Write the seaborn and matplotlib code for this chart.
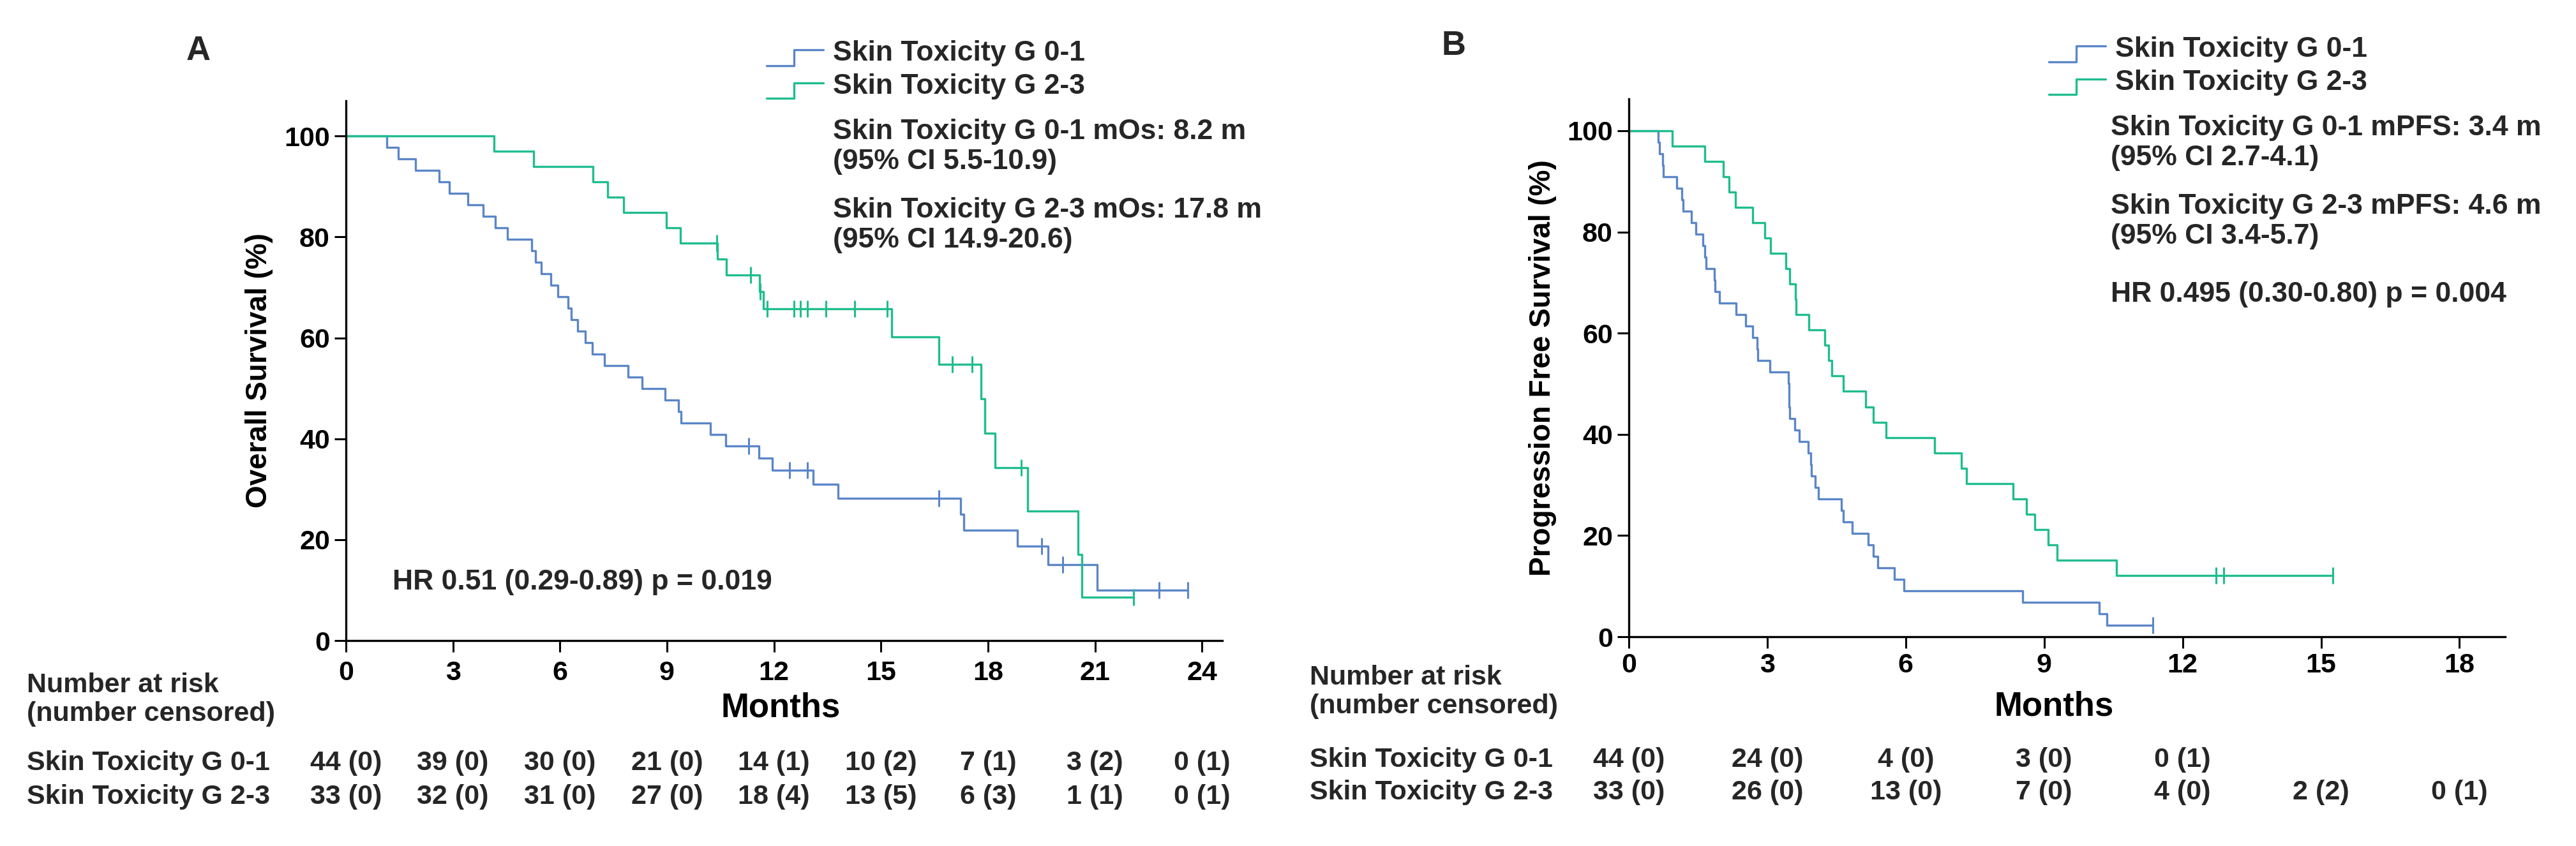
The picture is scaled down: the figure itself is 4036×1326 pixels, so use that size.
import numpy as np
import matplotlib
matplotlib.use("Agg")
import matplotlib.pyplot as plt
import matplotlib.transforms as mtransforms
from matplotlib.lines import Line2D
from matplotlib.legend_handler import HandlerBase
import seaborn as sns

# ---------------- data (months) ----------------
# Panel A - Overall survival
os_g01_deaths = [1.15, 1.46, 1.95, 2.62, 2.90, 3.41, 3.85, 4.19, 4.52, 5.21, 5.31, 5.47,
                 5.75, 5.95, 6.22, 6.32, 6.49, 6.71, 6.90, 7.24, 7.91, 8.30, 8.95, 9.32,
                 9.40, 10.22, 10.65, 11.58, 11.95, 13.10, 13.80, 17.24, 17.33, 18.83,
                 19.68, 21.07]
os_g01_censored = [11.30, 12.43, 12.94, 16.62, 19.50, 20.10, 22.80, 23.60]
os_g23_deaths = [4.16, 5.27, 6.93, 7.34, 7.79, 8.98, 9.37, 10.42, 10.67, 11.59, 11.71,
                 15.30, 16.62, 17.81, 17.92, 18.20, 19.11, 20.53, 20.64]
os_g23_censored = [10.39, 11.35, 11.62, 11.81, 12.57, 12.75, 12.93, 13.45, 14.27, 15.17,
                   17.00, 17.56, 18.94, 22.08]

# Panel B - Progression free survival
pfs_g01_deaths = [0.64, 0.66, 0.73, 0.75, 1.04, 1.15, 1.17, 1.36, 1.45, 1.61, 1.65, 1.67,
                  1.85, 1.87, 1.96, 2.32, 2.53, 2.69, 2.78, 2.80, 3.05, 3.46, 3.47, 3.47,
                  3.48, 3.60, 3.69, 3.88, 3.94, 3.96, 4.04, 4.11, 4.61, 4.65, 4.84, 5.18,
                  5.30, 5.39, 5.75, 5.96, 8.54, 10.20, 10.36]
pfs_g01_censored = [11.35]
pfs_g23_deaths = [0.94, 1.64, 2.05, 2.17, 2.31, 2.69, 2.94, 3.07, 3.40, 3.49, 3.61, 3.63,
                  3.90, 4.24, 4.33, 4.40, 4.65, 5.13, 5.30, 5.57, 6.62, 7.21, 7.32, 8.32,
                  8.61, 8.79, 9.09, 9.28, 10.57]
pfs_g23_censored = [12.73, 12.89, 15.25, 15.25]

group_labels = ["Skin Toxicity G 0-1", "Skin Toxicity G 2-3"]

# number at risk tables
os_risk_times = [0, 3, 6, 9, 12, 15, 18, 21, 24]
os_risk_g01 = ["44 (0)", "39 (0)", "30 (0)", "21 (0)", "14 (1)", "10 (2)", "7 (1)", "3 (2)", "0 (1)"]
os_risk_g23 = ["33 (0)", "32 (0)", "31 (0)", "27 (0)", "18 (4)", "13 (5)", "6 (3)", "1 (1)", "0 (1)"]
pfs_risk_times_g01 = [0, 3, 6, 9, 12]
pfs_risk_g01 = ["44 (0)", "24 (0)", "4 (0)", "3 (0)", "0 (1)"]
pfs_risk_times_g23 = [0, 3, 6, 9, 12, 15, 18]
pfs_risk_g23 = ["33 (0)", "26 (0)", "13 (0)", "7 (0)", "4 (0)", "2 (2)", "0 (1)"]

os_ticks = [0, 3, 6, 9, 12, 15, 18, 21, 24]
pfs_ticks = [0, 3, 6, 9, 12, 15, 18]
y_ticks = [0, 20, 40, 60, 80, 100]

os_notes = ["Skin Toxicity G 0-1 mOs: 8.2 m\n(95% CI 5.5-10.9)",
            "Skin Toxicity G 2-3 mOs: 17.8 m\n(95% CI 14.9-20.6)"]
os_hr = "HR 0.51 (0.29-0.89) p = 0.019"
pfs_notes = ["Skin Toxicity G 0-1 mPFS: 3.4 m\n(95% CI 2.7-4.1)",
             "Skin Toxicity G 2-3 mPFS: 4.6 m\n(95% CI 3.4-5.7)"]
pfs_hr = "HR 0.495 (0.30-0.80) p = 0.004"

BLUE = "#5A86C8"
GREEN = "#1FBD8E"


def km_curve(deaths, censored):
    t = np.array(list(deaths) + list(censored), float)
    e = np.array([1] * len(deaths) + [0] * len(censored))
    order = np.argsort(t, kind="stable")
    t, e = t[order], e[order]
    n = len(t)
    s = 100.0
    xs, ys, cx, cy = [0.0], [100.0], [], []
    for ut in np.unique(t):
        m = t == ut
        d = int(e[m].sum())
        c = int(m.sum()) - d
        if d > 0:
            s *= (n - d) / n
            xs.append(ut)
            ys.append(s)
        if c > 0:
            cx.append(ut)
            cy.append(s)
        n -= int(m.sum())
    xs.append(t.max())
    ys.append(s)
    return xs, ys, cx, cy


class StepHandler(HandlerBase):
    def create_artists(self, legend, orig_handle, xdescent, ydescent, width, height,
                       fontsize, trans):
        x0, y0 = -xdescent, -ydescent
        xs = [x0, x0 + 0.48 * width, x0 + 0.48 * width, x0 + width]
        ys = [y0 - 0.25 * height, y0 - 0.25 * height, y0 + 0.55 * height, y0 + 0.55 * height]
        ln = Line2D(xs, ys, color=orig_handle.get_color(), lw=orig_handle.get_linewidth())
        ln.set_transform(trans)
        return [ln]


sns.set_theme(style="ticks")
plt.rcParams["font.family"] = ["Liberation Sans", "DejaVu Sans"]
plt.rcParams["font.weight"] = "bold"
plt.rcParams["axes.labelweight"] = "bold"

W, H = 4037, 1326
fig = plt.figure(figsize=(W / 100, H / 100), dpi=100)
fig.patch.set_facecolor("white")

FS = 31
LW = 2.4


def fx(px):
    return px / W


def fy(py):
    return 1 - py / H


def draw_panel(ax, curves, xlim, ylim, xticks, ylabel, ylabel_x, xlabel_xy, tickpad):
    for (deaths, cens), color in curves:
        xs, ys, cx, cy = km_curve(deaths, cens)
        sns.lineplot(x=xs, y=ys, ax=ax, color=color, linewidth=LW, drawstyle="steps-post",
                     estimator=None, sort=False, legend=False)
        if cx:
            sns.scatterplot(x=cx, y=cy, ax=ax, marker="|", s=330, color=color,
                            linewidth=2.2, legend=False, zorder=4)
    ax.set_xlim(*xlim)
    ax.set_ylim(*ylim)
    ax.set_xticks(xticks)
    ax.set_yticks(y_ticks)
    ax.tick_params(axis="both", which="major", direction="out", length=13, width=2.2,
                   labelsize=FS, color="black", labelcolor="black")
    ax.tick_params(axis="x", pad=tickpad)
    ax.tick_params(axis="y", pad=5)
    for lab in ax.get_xticklabels() + ax.get_yticklabels():
        lab.set_fontweight("bold")
    sns.despine(ax=ax)
    for sp in ["left", "bottom"]:
        ax.spines[sp].set_linewidth(2.4)
        ax.spines[sp].set_color("black")
    ax.set_ylabel(ylabel, fontsize=33, fontweight="bold", color="black")
    ax.yaxis.set_label_coords(ylabel_x, 0.5)
    ax.yaxis.label.set_verticalalignment("center")
    ax.set_xlabel("Months", fontsize=38, fontweight="bold", color="black")
    ax.xaxis.set_label_coords(*xlabel_xy)
    ax.xaxis.label.set_verticalalignment("center")
    ax.set_facecolor("white")


# ---------------- Panel A ----------------
axA = fig.add_axes([fx(542), 1 - 1004 / H, fx(1373), 846 / H])
draw_panel(axA, [((os_g01_deaths, os_g01_censored), BLUE),
                 ((os_g23_deaths, os_g23_censored), GREEN)],
           (0, 24.57), (0, 107), os_ticks, "Overall Survival (%)", -0.099,
           (0.496, -0.125), 9)
axA.text(1.3, 11.6, os_hr, fontsize=32, fontweight="bold", va="center", ha="left")

# ---------------- Panel B ----------------
axB = fig.add_axes([fx(2552), 1 - 998 / H, fx(1373), 843 / H])
draw_panel(axB, [((pfs_g01_deaths, pfs_g01_censored), BLUE),
                 ((pfs_g23_deaths, pfs_g23_censored), GREEN)],
           (0, 18.99), (0, 106.3), pfs_ticks, "Progression Free Survival (%)", -0.098,
           (0.485, -0.130), 5)

# panel letters
fig.text(fx(311), fy(80), "A", fontsize=38, fontweight="bold", ha="center", va="center")
fig.text(fx(2278), fy(72), "B", fontsize=38, fontweight="bold", ha="center", va="center")

# legends
handles = [Line2D([], [], color=BLUE, lw=LW), Line2D([], [], color=GREEN, lw=LW)]
legend_kw = dict(loc="upper left", frameon=False, handlelength=2.0, handletextpad=0.34,
                 labelspacing=0.24, borderpad=0, borderaxespad=0,
                 handler_map={Line2D: StepHandler()},
                 prop={"weight": "bold", "size": 32})
legA = fig.legend(handles, group_labels, bbox_to_anchor=(fx(1201), fy(63)), **legend_kw)
legB = fig.legend(handles, group_labels, bbox_to_anchor=(fx(3210), fy(57)), **legend_kw)

# notes
for txt, yc in zip(os_notes, [230, 353]):
    fig.text(fx(1305), fy(yc), txt, fontsize=32, fontweight="bold", ha="left", va="center",
             linespacing=1.2)
for txt, yc in zip(pfs_notes, [224, 347]):
    fig.text(fx(3307), fy(yc), txt, fontsize=32, fontweight="bold", ha="left", va="center",
             linespacing=1.2)
fig.text(fx(3307), fy(461), pfs_hr, fontsize=32, fontweight="bold", ha="left", va="center")


# risk tables
def risk_table(ax, x_left, base_y, rows):
    fig.text(fx(x_left), fy(base_y[0]), "Number at risk", fontsize=FS, fontweight="bold",
             ha="left", va="baseline")
    fig.text(fx(x_left), fy(base_y[1]), "(number censored)", fontsize=FS, fontweight="bold",
             ha="left", va="baseline")
    trans = mtransforms.blended_transform_factory(ax.transData, fig.transFigure)
    for (label, times, vals), by in zip(rows, base_y[2:]):
        fig.text(fx(x_left), fy(by), label, fontsize=FS, fontweight="bold", ha="left",
                 va="baseline")
        for t, v in zip(times, vals):
            ax.text(t, fy(by), v, transform=trans, fontsize=FS, fontweight="bold",
                    ha="center", va="baseline", clip_on=False)


risk_table(axA, 42, [1085, 1130, 1207, 1260],
           [(group_labels[0], os_risk_times, os_risk_g01),
            (group_labels[1], os_risk_times, os_risk_g23)])
risk_table(axB, 2052, [1073, 1118, 1202, 1253],
           [(group_labels[0], pfs_risk_times_g01, pfs_risk_g01),
            (group_labels[1], pfs_risk_times_g23, pfs_risk_g23)])

fig.savefig("out.png", dpi=100, facecolor="white")
